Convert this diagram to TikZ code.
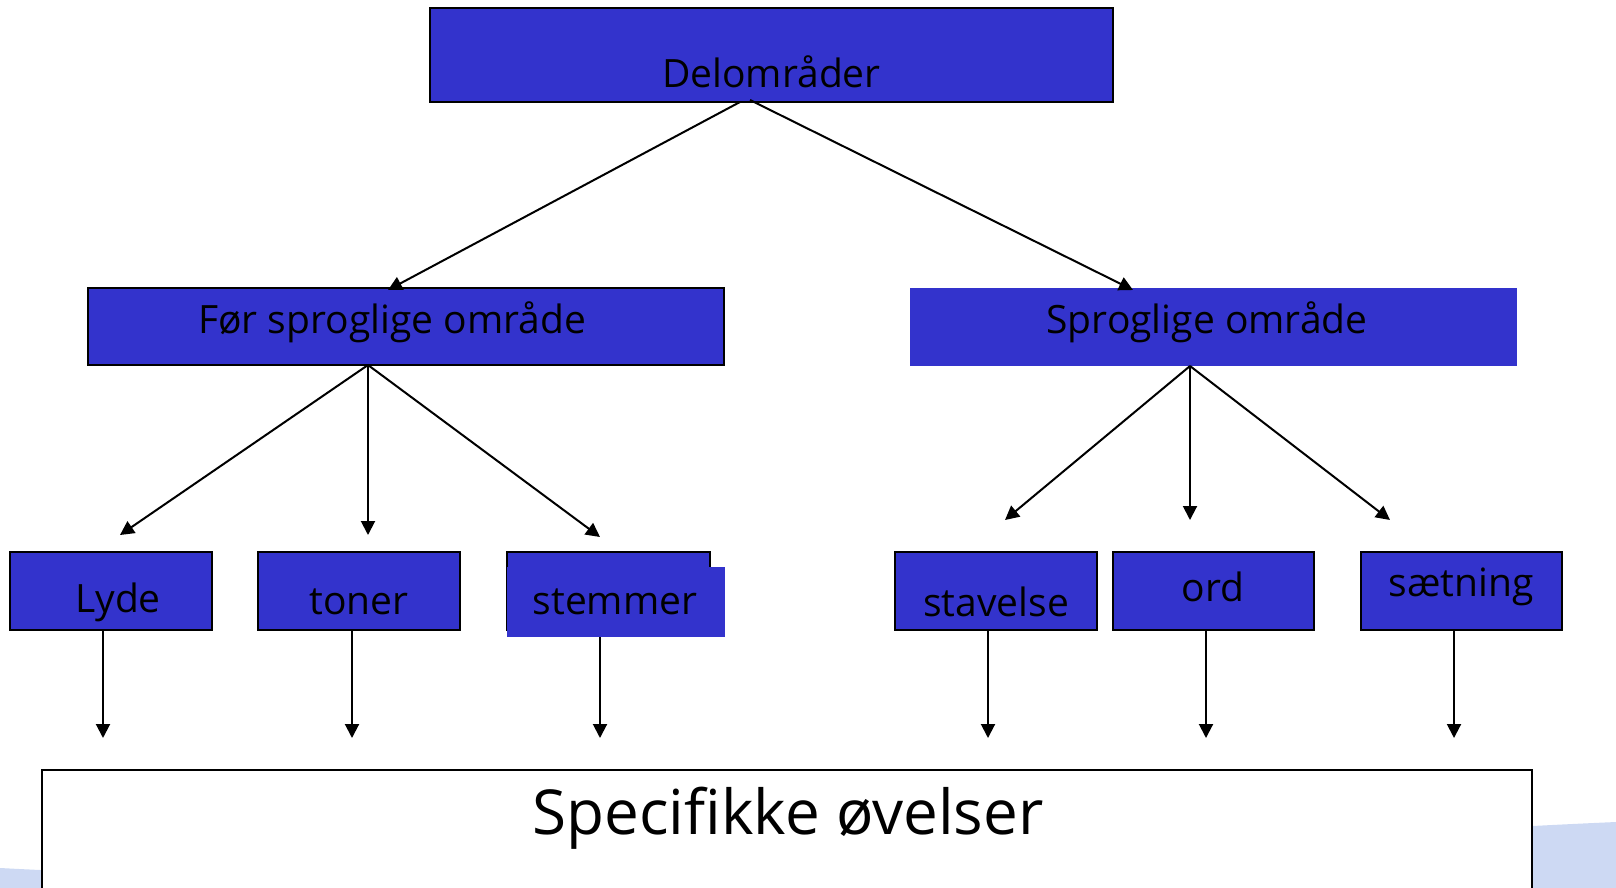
\documentclass[tikz,border=0pt]{standalone}
\usepackage{fontspec}
\setmainfont{Open Sans}
\usetikzlibrary{arrows.meta}
\definecolor{boxblue}{HTML}{3333CC}
\definecolor{swoosh}{HTML}{CDD9F3}
\tikzset{
  bluebox/.style={draw=black, line width=2pt, fill=boxblue, inner sep=0pt, text=black},
  plainblue/.style={fill=boxblue, inner sep=0pt, text=black},
  conn/.style={line width=2pt, -{Triangle[length=14pt,width=14pt]}},
  lbl/.style={font=\fontsize{39}{44}\selectfont},
}
\begin{document}
\begin{tikzpicture}[x=1pt,y=-1pt]
\useasboundingbox (0,0) rectangle (1616,888);
% background swoosh
\fill[swoosh] (0,868) .. controls (600,900) and (1200,840) .. (1616,822) -- (1616,888) -- (0,888) -- cycle;
% boxes
\node[bluebox, minimum width=683pt, minimum height=94pt] (del) at (771.5,55) {};
\node[lbl] (delt) at (771.5,72) {Delområder};
\node[bluebox, minimum width=636pt, minimum height=77pt] (fsp) at (406,326.5) {};
\node[lbl] (fspt) at (392,322) {Før sproglige område};
\node[plainblue, minimum width=607pt, minimum height=78pt] (sp) at (1213.5,327) {};
\node[lbl] (spt) at (1207,322) {Sproglige område};

\node[bluebox, minimum width=202pt, minimum height=78pt] (lyde) at (111,591) {};
\node[lbl] (lydet) at (118,602) {Lyde};
\node[bluebox, minimum width=202pt, minimum height=78pt] (toner) at (359,591) {};
\node[lbl] (tonert) at (359,602) {toner};
\node[bluebox, minimum width=203pt, minimum height=78pt] (stem) at (608.5,591) {};
\node[plainblue, minimum width=218pt, minimum height=70pt] (stemf) at (616,602) {};
\node[lbl] (stemt) at (615,602) {stemmer};
\node[bluebox, minimum width=202pt, minimum height=78pt] (stav) at (996,591) {};
\node[lbl] (stavt) at (996,602) {stavelse};
\node[bluebox, minimum width=201pt, minimum height=78pt] (ord) at (1213.5,591) {};
\node[lbl] (ordt) at (1213,587) {ord};
\node[bluebox, minimum width=201pt, minimum height=78pt] (saet) at (1461.5,591) {};
\node[lbl] (saett) at (1461,587) {sætning};

\node[draw=black, line width=2pt, fill=white, minimum width=1490pt, minimum height=140pt, inner sep=0pt] (spec) at (787,840) {};
\node[font=\fontsize{62}{68}\selectfont] (spect) at (788,818) {Specifikke øvelser};

% coordinates
\coordinate (d1) at (740,102); \coordinate (d2) at (750,100);
\coordinate (e1) at (388,290); \coordinate (e2) at (1133,290);
\coordinate (f0) at (368,365);
\coordinate (g1) at (120,535); \coordinate (g2) at (368,535); \coordinate (g3) at (600,537);
\coordinate (s0) at (1190,366);
\coordinate (h1) at (1005,520); \coordinate (h2) at (1190,520); \coordinate (h3) at (1390,520);
\coordinate (lb) at (103,630); \coordinate (le) at (103,738);
\coordinate (tb) at (352,630); \coordinate (te) at (352,738);
\coordinate (mb) at (600,637); \coordinate (me) at (600,738);
\coordinate (vb) at (988,630); \coordinate (ve) at (988,738);
\coordinate (ob) at (1206,630); \coordinate (oe) at (1206,738);
\coordinate (nb) at (1454,630); \coordinate (ne) at (1454,738);

\draw[conn] (d1) -- (e1);
\draw[conn] (d2) -- (e2);
\draw[conn] (f0) -- (g1);
\draw[conn] (f0) -- (g2);
\draw[conn] (f0) -- (g3);
\draw[conn] (s0) -- (h1);
\draw[conn] (s0) -- (h2);
\draw[conn] (s0) -- (h3);
\draw[conn] (lb) -- (le);
\draw[conn] (tb) -- (te);
\draw[conn] (mb) -- (me);
\draw[conn] (vb) -- (ve);
\draw[conn] (ob) -- (oe);
\draw[conn] (nb) -- (ne);
\end{tikzpicture}
\end{document}
